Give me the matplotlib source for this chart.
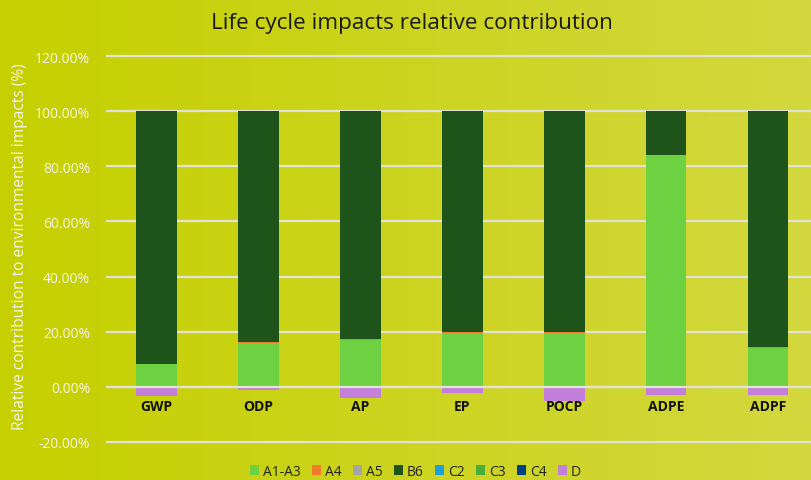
import numpy as np
import matplotlib
matplotlib.use("Agg")
import matplotlib.pyplot as plt
from matplotlib.colors import LinearSegmentedColormap
from matplotlib.ticker import FuncFormatter

# categorias e contribuicoes (%)
categorias = ["GWP", "ODP", "AP", "EP", "POCP", "ADPE", "ADPF"]
a1_a3 = [8.3, 16.0, 17.0, 19.7, 19.7, 83.6, 14.2]
a4 = [0.1, 0.1, 0.3, 0.05, 0.05, 0.3, 0.4]
a5 = [0.02, 0.02, 0.02, 0.02, 0.02, 0.02, 0.02]
b6 = [91.55, 83.85, 82.65, 80.2, 80.2, 16.05, 85.35]
c2 = [0.01, 0.01, 0.01, 0.01, 0.01, 0.01, 0.01]
c3 = [0.01, 0.01, 0.01, 0.01, 0.01, 0.01, 0.01]
c4 = [0.01, 0.01, 0.01, 0.01, 0.01, 0.01, 0.01]
d = [-3.3, -1.0, -3.9, -2.2, -5.0, -3.0, -3.0]

series = [("A1-A3", a1_a3, "#6dd142"), ("A4", a4, "#f07c2a"), ("A5", a5, "#a5a5a5"),
          ("B6", b6, "#1e5419"), ("C2", c2, "#1d9fd8"), ("C3", c3, "#4aae3a"),
          ("C4", c4, "#004184"), ("D", d, "#c37fd9")]

plt.rcParams["font.family"] = ["Open Sans", "DejaVu Sans"]

fig = plt.figure(figsize=(8.11, 4.81), dpi=100)

# fundo em degrade
bg = fig.add_axes([0, 0, 1, 1], zorder=-2)
cmap = LinearSegmentedColormap.from_list("fundo", ["#c6d000", "#d3d83e"])
bg.imshow(np.linspace(0, 1, 256).reshape(1, -1), cmap=cmap, aspect="auto", extent=[0, 1, 0, 1])
bg.axis("off")

ax = fig.add_axes([0.1302, 0.075, 0.8795, 0.8105])
ax.set_facecolor("none")

x = np.arange(len(categorias))
base_pos = np.zeros(len(categorias))
base_neg = np.zeros(len(categorias))
for nome, vals, cor in series:
    v = np.array(vals) / 100
    base = np.where(v >= 0, base_pos, base_neg)
    ax.bar(x, v, 0.4, bottom=base, color=cor, label=nome, zorder=3)
    base_pos += np.where(v >= 0, v, 0)
    base_neg += np.where(v < 0, v, 0)

ax.axhline(0, color="#e2e2d8", linewidth=1.6, zorder=4)
ax.set_xlim(-0.5, len(categorias) - 0.5)
ax.set_ylim(-0.207, 1.207)
ax.set_yticks(np.arange(-0.2, 1.21, 0.2))
ax.yaxis.set_major_formatter(FuncFormatter(lambda v, p: f"{v*100:.2f}%"))
ax.grid(axis="y", color="#e2e2d8", linewidth=1.6, zorder=0)
for s in ["top", "right", "left"]:
    ax.spines[s].set_visible(False)
ax.spines["bottom"].set_position(("data", 0))
ax.spines["bottom"].set_visible(False)
ax.set_xticks(x)
ax.set_xticklabels(categorias, fontsize=10, fontweight="bold", color="#111111")
ax.tick_params(axis="x", length=0, pad=9)
ax.tick_params(axis="y", length=0, labelsize=10, labelcolor="#f4f4ec", pad=11)

fig.text(0.0247, 0.4875, "Relative contribution to environmental impacts (%)", rotation=90,
         va="center", ha="center", fontsize=11.2, color="#f4f4ec")
fig.text(0.508, 0.952, "Life cycle impacts relative contribution", ha="center", va="center",
         fontsize=16.2, color="#1a1a1a")

fig.legend(loc="center", bbox_to_anchor=(0.512, 0.018), ncol=8, frameon=False, fontsize=10,
           handlelength=0.7, handleheight=0.7, handletextpad=0.25, columnspacing=0.8,
           labelcolor="#222222")

fig.savefig("out.png", dpi=100)
